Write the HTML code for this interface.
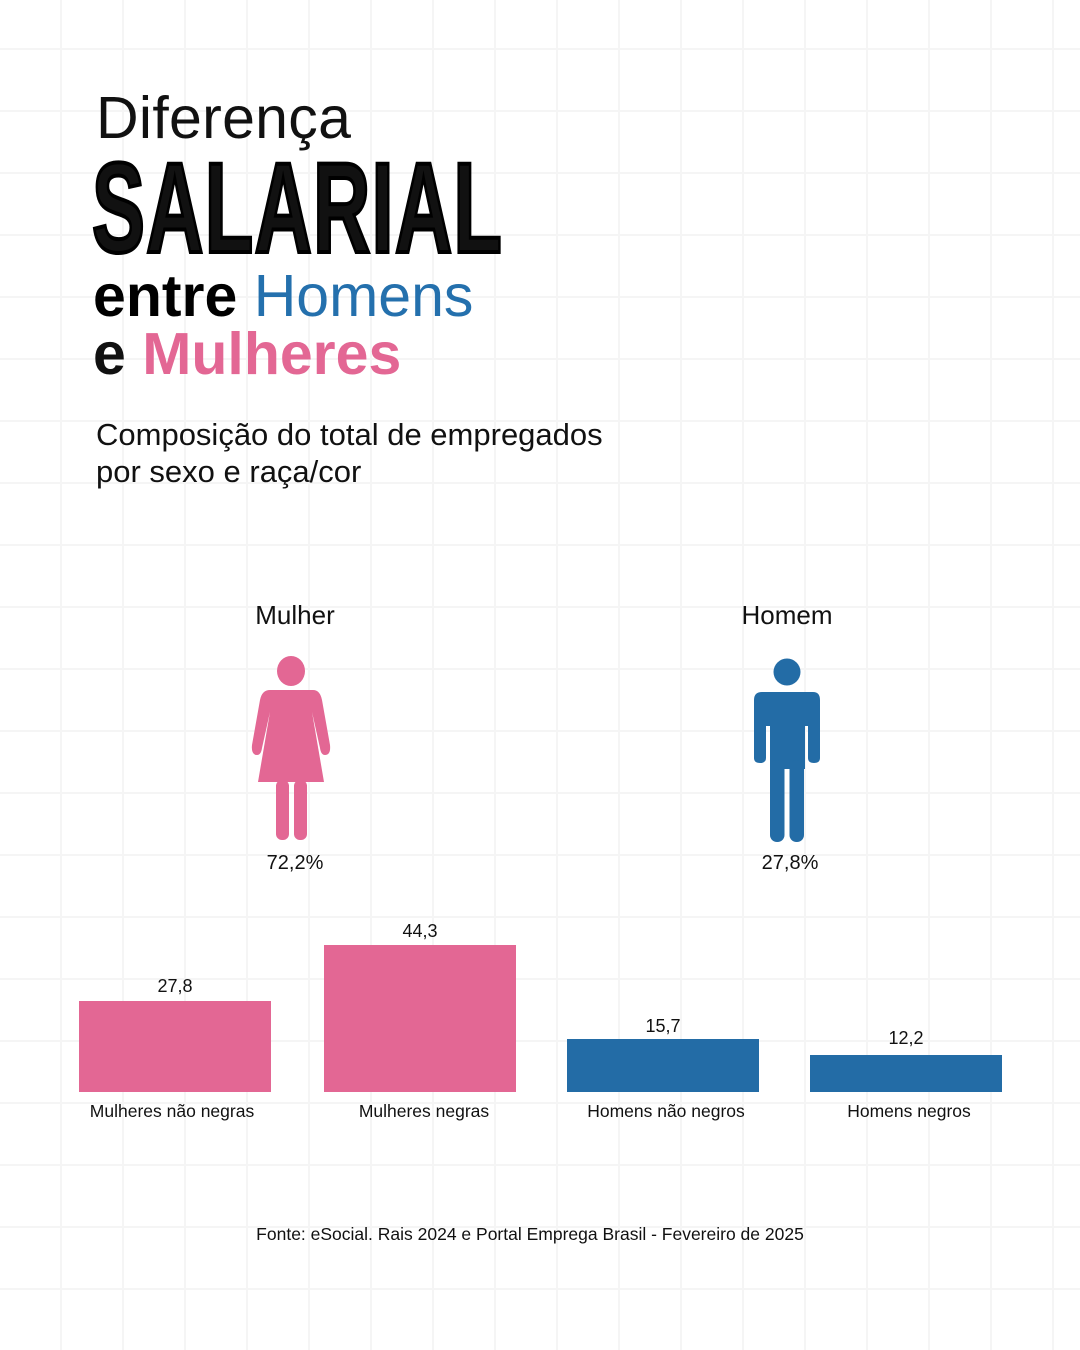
<!DOCTYPE html>
<html><head><meta charset="utf-8"><style>
html,body{margin:0;padding:0}
body{width:1080px;height:1350px;position:relative;overflow:hidden;background:#fff;font-family:"Liberation Sans",sans-serif;color:#111;
background-image:repeating-linear-gradient(90deg,transparent 0 60px,#f5f5f5 60px 62px),repeating-linear-gradient(0deg,transparent 0 60px,#f5f5f5 60px 62px);}
.t{position:absolute;white-space:nowrap;line-height:1}
.c{transform:translateX(-50%)}
.bar{position:absolute}
</style></head><body>
<div class="t" style="left:96px;top:89px;font-size:59px;font-weight:300;letter-spacing:0.3px">Diferença</div>
<div class="t" style="left:92px;top:145px;font-size:128px;font-weight:bold;font-family:'Liberation Sans Narrow','Liberation Sans',sans-serif;transform:scaleX(0.62);transform-origin:left top;-webkit-text-stroke:4px #000;letter-spacing:2px">SALARIAL</div>
<div class="t" style="left:93px;top:267px;font-size:59px;font-weight:bold"><span style="color:#000">entre</span> <span style="color:#2470ad;font-weight:normal">Homens</span></div>
<div class="t" style="left:93px;top:325px;font-size:59px;font-weight:bold"><span>e</span> <span style="color:#e36794">Mulheres</span></div>
<div class="t" style="left:96px;top:416px;font-size:31px;line-height:37px">Composição do total de empregados<br>por sexo e raça/cor</div>

<div class="t c" style="left:295px;top:602px;font-size:26px">Mulher</div>
<div class="t c" style="left:787px;top:602px;font-size:26px">Homem</div>

<svg style="position:absolute;left:0;top:0" width="1080" height="1350">
<g fill="#e36794">
<ellipse cx="291" cy="671" rx="14" ry="15"/>
<path d="M270 690 H313 Q320 690 322 700 L330 745 Q331 755 325 755 Q321 755 320 748 L312 712 L324 782 H258 L270 712 L262 748 Q261 755 257 755 Q251 755 252 745 L260 700 Q262 690 270 690Z"/>
<rect x="276" y="780" width="13" height="60" rx="6"/>
<rect x="294" y="780" width="13" height="60" rx="6"/>
</g>
<g fill="#236ca6">
<circle cx="787" cy="672" r="13.5"/>
<path d="M762 692 H813 Q820 692 820 700 V758 Q820 763 814 763 Q808 763 808 758 V726 H805 V769 H770 V726 H766 V758 Q766 763 760 763 Q754 763 754 758 V700 Q754 692 762 692Z"/>
<rect x="770" y="760" width="14.5" height="82" rx="7"/>
<rect x="789.5" y="760" width="14.5" height="82" rx="7"/>
</g>
</svg>

<div class="t c" style="left:295px;top:853px;font-size:20px">72,2%</div>
<div class="t c" style="left:790px;top:853px;font-size:20px">27,8%</div>

<div class="bar" style="left:79px;top:1001px;width:192px;height:91px;background:#e36794"></div>
<div class="bar" style="left:324px;top:945px;width:192px;height:147px;background:#e36794"></div>
<div class="bar" style="left:567px;top:1039px;width:192px;height:53px;background:#236ca6"></div>
<div class="bar" style="left:810px;top:1055px;width:192px;height:37px;background:#236ca6"></div>

<div class="t c" style="left:175px;top:977px;font-size:18px">27,8</div>
<div class="t c" style="left:420px;top:922px;font-size:18px">44,3</div>
<div class="t c" style="left:663px;top:1017px;font-size:18px">15,7</div>
<div class="t c" style="left:906px;top:1029px;font-size:18px">12,2</div>

<div class="t c" style="left:172px;top:1103px;font-size:17.5px">Mulheres não negras</div>
<div class="t c" style="left:424px;top:1103px;font-size:17.5px">Mulheres negras</div>
<div class="t c" style="left:666px;top:1103px;font-size:17.5px">Homens não negros</div>
<div class="t c" style="left:909px;top:1103px;font-size:17.5px">Homens negros</div>

<div class="t c" style="left:530px;top:1226px;font-size:17.5px">Fonte: eSocial. Rais 2024 e Portal Emprega Brasil - Fevereiro de 2025</div>
</body></html>
